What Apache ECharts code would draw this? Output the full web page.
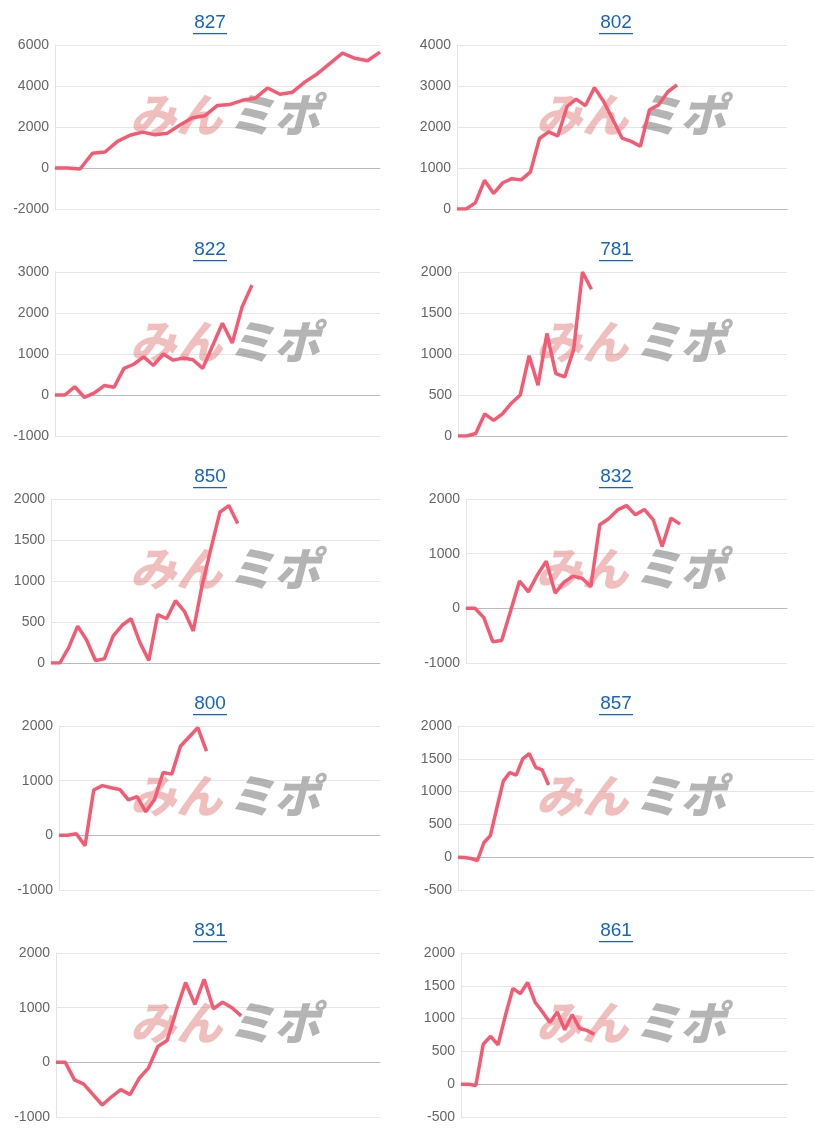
<!DOCTYPE html>
<html><head><meta charset="utf-8">
<script src="https://cdn.jsdelivr.net/npm/echarts@6/dist/echarts.min.js"></script>
<style>html,body{margin:0;padding:0;background:#fff}#c{width:814px;height:1135px}</style>
</head><body><div id="c"></div>
<script>
const titles = ['827','802','822','781','850','832','800','857','831','861'];
const slots = [27,37,34,38,38,37,38,56,36,45];
const s827 = [0,0,-50,720,780,1300,1600,1750,1620,1700,2100,2450,2550,3050,3100,3300,3400,3900,3600,3700,4200,4600,5100,5600,5350,5230,5650];
const s802 = [0,0,150,700,380,640,740,710,900,1720,1880,1780,2500,2680,2520,2960,2620,2180,1730,1650,1530,2420,2540,2860,3030];
const s822 = [0,0,200,-60,50,230,190,650,750,930,720,1000,850,900,860,650,1200,1750,1270,2150,2680];
const s781 = [0,0,30,270,190,270,400,500,980,620,1250,760,720,1050,2000,1790];
const s850 = [0,0,190,450,280,30,50,330,460,540,250,30,590,540,760,630,390,950,1400,1840,1920,1700];
const s832 = [0,0,-170,-610,-590,-50,500,300,610,860,280,480,590,550,400,1530,1640,1800,1880,1710,1810,1620,1130,1650,1540];
const s800 = [0,0,30,-190,830,910,870,840,650,710,430,650,1150,1120,1630,1800,1970,1540];
const s857 = [0,-5,-20,-50,220,330,750,1160,1290,1250,1500,1580,1370,1330,1100];
const s831 = [0,0,-320,-400,-590,-780,-630,-500,-590,-290,-100,290,400,950,1460,1060,1520,980,1100,1000,850];
const s861 = [0,0,-20,610,730,600,1050,1460,1380,1550,1250,1100,940,1100,830,1060,850,820,760];
const seriesData = [s827,s802,s822,s781,s850,s832,s800,s857,s831,s861];
const yMin = [-2000,0,-1000,0,0,-1000,-1000,-500,-1000,-500];
const yMax = [6000,4000,3000,2000,2000,2000,2000,2000,2000,2000];
const yStep = [2000,1000,1000,500,500,1000,1000,500,1000,500];
const gridLeft = [55,457,55,458,51,466,59,458,56,461];
const gridRight = [380,787,380,787,380,787,380,814,380,787];

const chart = echarts.init(document.getElementById('c'));
const grid=[],xAxis=[],yAxis=[],series=[],graphic=[];
for(let i=0;i<10;i++){
  const col=i%2,row=Math.floor(i/2),top=row*227;
  grid.push({left:gridLeft[i],width:gridRight[i]-gridLeft[i],top:top+45,height:164});
  xAxis.push({gridIndex:i,type:'category',boundaryGap:false,data:Array.from({length:slots[i]},(_,k)=>String(k+1)),
    axisLine:{onZero:true,lineStyle:{color:'#bbb'}},axisTick:{show:false},axisLabel:{show:false},splitLine:{show:false}});
  yAxis.push({gridIndex:i,type:'value',min:yMin[i],max:yMax[i],interval:yStep[i],
    axisLine:{show:true,lineStyle:{color:'#e4e4e4'}},axisTick:{show:false},
    axisLabel:{color:'#666',fontSize:14,fontFamily:'Arial, Liberation Sans',margin:6,formatter:v=>String(v)},
    splitLine:{lineStyle:{color:'#e6e6e6'}}});
  series.push({type:'line',xAxisIndex:i,yAxisIndex:i,data:seriesData[i],showSymbol:false,
    lineStyle:{color:'#f55a73',width:3.5},z:5});
  const cx=col?616:210;
  graphic.push({type:'text',x:cx,y:top+13,style:{text:titles[i],fill:'#1565c0',font:'19px Arial, Liberation Sans',align:'center'},z:10});
  graphic.push({type:'rect',shape:{x:cx-17,y:top+33,width:34,height:1.3},style:{fill:'#1565c0'},z:10});
  const wx=col?536:130;
  graphic.push({type:'text',x:wx,y:top+92,style:{text:'みん',fill:'rgba(225,110,110,0.45)',font:'italic 900 46px "Noto Sans CJK JP"'},z:1});
  graphic.push({type:'text',x:wx+98,y:top+92,style:{text:'ミポ',fill:'rgba(130,130,130,0.6)',font:'italic 900 46px "Noto Sans CJK JP"'},z:1});
}
chart.setOption({animation:false,grid,xAxis,yAxis,series,graphic});
</script></body></html>
